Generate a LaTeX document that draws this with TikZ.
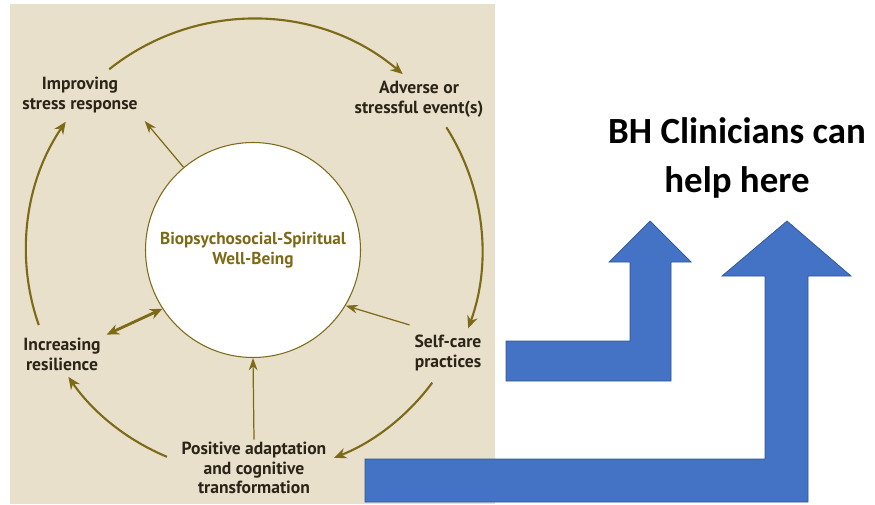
\documentclass[tikz,border=0pt]{standalone}
\usepackage{fontspec}
\usetikzlibrary{arrows.meta}
\newfontfamily\cyclefont{PT Sans}
\newfontfamily\calloutfont{Carlito}
\definecolor{panel}{HTML}{E8E0CB}
\definecolor{olive}{HTML}{7D6A16}
\definecolor{ink}{HTML}{2B2519}
\definecolor{bhblue}{HTML}{4472C4}
\definecolor{bhedge}{HTML}{2F5597}

\begin{document}
\begin{tikzpicture}[
    x=0.02cm, y=0.02cm,
    stage/.style={align=center, inner sep=1pt, text=ink, font=\cyclefont\bfseries\fontsize{10}{11.3}\selectfont},
    core/.style={circle, draw=olive, line width=0.6pt, fill=white, minimum size=215*0.02cm, align=center, text=olive, font=\cyclefont\bfseries\fontsize{9.8}{11.3}\selectfont},
    cyc/.style={draw=olive, line width=1.2pt, -{Stealth[length=7pt, width=6pt]}},
    spoke/.style={draw=olive, line width=0.7pt, -{Stealth[length=7pt, width=5pt]}},
    twoway/.style={draw=olive, line width=1.6pt, {Stealth[length=7pt, width=6pt]}-{Stealth[length=7pt, width=6pt]}},
    bigarrow/.style={fill=bhblue, draw=bhedge, line width=0.4pt},
]
\useasboundingbox (0,0) rectangle (875,-504);

% background panel
\fill[panel] (10,-4) rectangle (495,-504);

\node[core] (wellbeing) at (253,-250) {Biopsychosocial-Spiritual\\Well-Being};

\node[stage] (improve) at (80,-95) {Improving\\stress response};
\node[stage] (adverse) at (419,-99) {Adverse or\\stressful event(s)};
\node[stage] (selfcare) at (448,-353) {Self-care\\practices};
\node[stage] (positive) at (254,-468) {Positive adaptation\\and cognitive\\transformation};
\node[stage] (resilience) at (62,-354) {Increasing\\resilience};

% outer cycle
\draw[cyc] (wellbeing.center) ++(128.5:231) arc[start angle=128.5, end angle=49.6, radius=231];
\draw[cyc] (wellbeing.center) ++(32.4:229) arc[start angle=32.4, end angle=-20, radius=229];
\draw[cyc] (wellbeing.center) ++(-36.5:223) arc[start angle=-36.5, end angle=-68.7, radius=223];
\draw[cyc] (wellbeing.center) ++(-112.6:224) arc[start angle=-112.6, end angle=-145.5, radius=224];
\draw[cyc] (wellbeing.center) ++(199.3:227) arc[start angle=199.3, end angle=145.6, radius=227];

% links to the centre
\draw[spoke] (wellbeing.130) -- ([shift={(5,-6)}]improve.south east);
\draw[spoke] ([shift={(-3,8)}]selfcare.north west) -- (wellbeing.-31);
\draw[spoke] (positive.north) -- (wellbeing.south);
\draw[twoway] ([shift={(4,1)}]resilience.north east) -- (wellbeing.213);

% callout arrows
\filldraw[bigarrow] (506,-341) -- (630,-341) -- (630,-262) -- (609,-262) -- (650,-221)
    -- (691,-262) -- (671,-262) -- (671,-381) -- (506,-381) -- cycle;
\filldraw[bigarrow] (365,-459) -- (765,-459) -- (765,-276) -- (722,-276) -- (787,-221)
    -- (851,-276) -- (808,-276) -- (808,-502) -- (365,-502) -- cycle;

\node[align=center, font=\calloutfont\bfseries\fontsize{21}{27.8}\selectfont] (bhnote) at (737,-158) {BH Clinicians can\\help here};

\end{tikzpicture}
\end{document}
